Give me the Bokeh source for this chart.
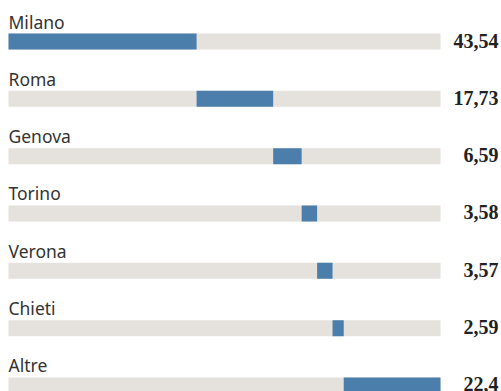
from bokeh.plotting import figure
from bokeh.models import ColumnDataSource, Range1d
from bokeh.core.properties import value
from bokeh.embed import file_html
from bokeh.resources import INLINE

cities = ["Milano", "Roma", "Genova", "Torino", "Verona", "Chieti", "Altre"]
shares = [43.54, 17.73, 6.59, 3.58, 3.57, 2.59, 22.4]

starts = []
acc = 0.0
for s in shares:
    starts.append(acc)
    acc += s
ends = [a + s for a, s in zip(starts, shares)]
idx = list(range(len(cities)))
labels = [str(s).replace(".", ",") for s in shares]

W, H = 501, 391
px_per_unit_x = 4.32
left_px = 8
row_px = 57.33
first_row_px = 41

x0 = -left_px / px_per_unit_x
x1 = (W - left_px) / px_per_unit_x
y_top = -first_row_px / row_px
y_bot = (H - first_row_px) / row_px

p = figure(width=W, height=H, output_backend="svg", toolbar_location=None,
           x_range=Range1d(x0, x1), y_range=Range1d(y_bot, y_top),
           min_border=0, min_border_left=0, min_border_right=0,
           min_border_top=0, min_border_bottom=0)
p.axis.visible = False
p.grid.visible = False
p.outline_line_color = None
p.background_fill_color = "white"
p.border_fill_color = "white"

bar_h = 16 / row_px

src = ColumnDataSource(dict(
    y=idx, start=starts, end=ends, city=cities, label=labels,
    zero=[0] * len(idx), full=[100] * len(idx),
    ylab=[i - 20 / row_px for i in idx],
    yval=[i - 1 / row_px for i in idx],
))

p.hbar(y="y", left="zero", right="full", height=bar_h, source=src,
       fill_color="#e5e2dd", line_color=None)
p.hbar(y="y", left="start", right="end", height=bar_h, source=src,
       fill_color="#4b7eab", line_color=None)

p.text(x="zero", y="ylab", text="city", source=src,
       text_font=value("Noto Sans"), text_font_size="17.5px",
       text_color="#333333", text_baseline="alphabetic", text_align="left")

xr = (498 - left_px) / px_per_unit_x
src.data["xr"] = [xr] * len(idx)
p.text(x="xr", y="yval", text="label", source=src,
       text_font=value("Liberation Serif"), text_font_size="20px",
       text_font_style="bold", text_color="#222222",
       text_baseline="middle", text_align="right")

open("out.html", "w").write(file_html(p, INLINE))
